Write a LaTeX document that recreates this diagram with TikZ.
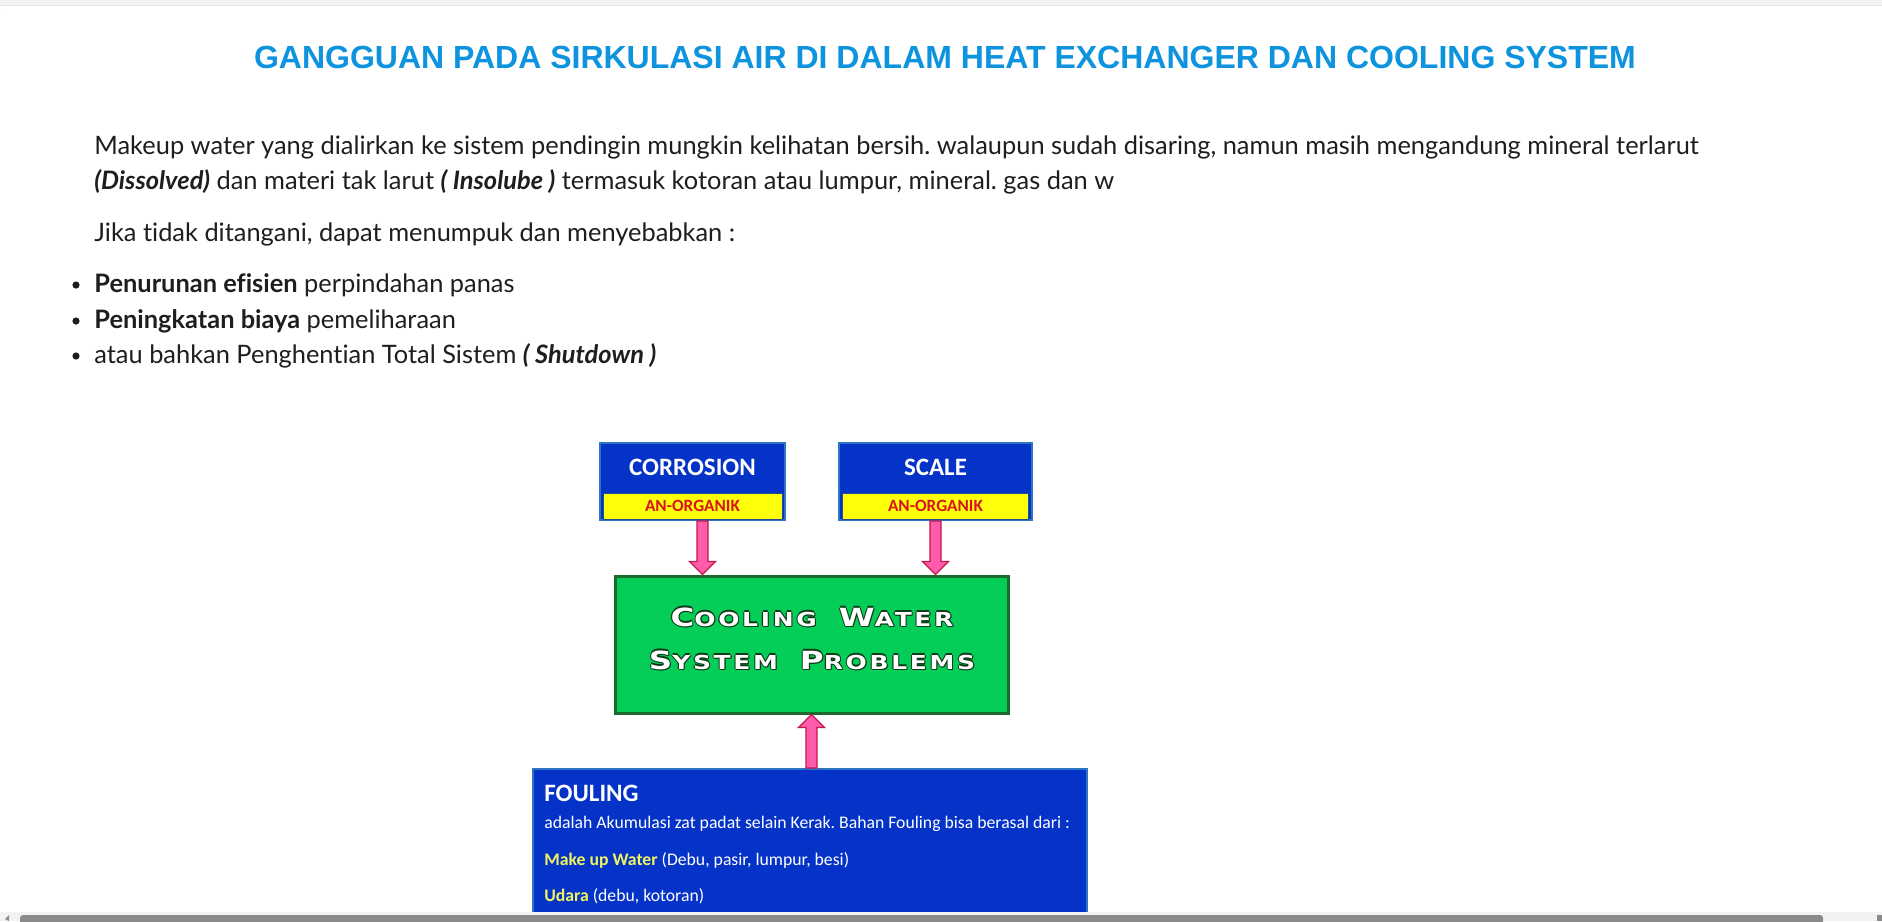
\documentclass[tikz,border=0pt]{standalone}
\usepackage{fontspec}
\setmainfont{Lato}[Ligatures=NoCommon]
\newfontfamily\arial{Liberation Sans}
\newfontfamily\calib{Carlito}
\newfontfamily\plate{DejaVu Sans}[FakeStretch=1.3,LetterSpace=14]
\usetikzlibrary{calc}
\frenchspacing

% white letters with a thin dark rim
\newcommand\edged[1]{\leavevmode{\color{RimGreen}\rlap{\kern-.55pt#1}\rlap{\kern.55pt#1}\rlap{\raisebox{.55pt}{#1}}\rlap{\raisebox{-.55pt}{#1}}\rlap{\kern.45pt\raisebox{-.9pt}{#1}}}#1}
\newcommand\pc[2]{{\fontsize{12.5}{13}\selectfont#1}{\fontsize{9.6}{10}\selectfont#2}}
% fat arrow: start, end, signed head length
\newcommand\blockarrow[3]{\draw[bkarrow] ($(#1)+(-5.5,0)$) -- ($(#2)+(-5.5,#3)$) -- ($(#2)+(-13,#3)$) -- (#2) -- ($(#2)+(13,#3)$) -- ($(#2)+(5.5,#3)$) -- ($(#1)+(5.5,0)$) -- cycle;}

\begin{document}
\begin{tikzpicture}[x=0.5pt,y=-0.5pt, every node/.style={inner sep=0pt},
  body/.style={anchor=base west, text=Ink, font=\fontsize{12.7}{14}\selectfont},
  blubox/.style={draw=EdgeBlue, line width=1pt, fill=BoxBlue},
  tag/.style={fill=TagYellow, draw=TagEdge, line width=.5pt, text=TagRed, font=\calib\bfseries\fontsize{8.6}{10}\selectfont},
  boxlbl/.style={anchor=base, text=white, font=\calib\bfseries\fontsize{12.5}{14}\selectfont},
  foultxt/.style={anchor=base west, text=white, font=\calib\fontsize{8.85}{10}\selectfont},
  bkarrow/.style={fill=ArrowPink, draw=ArrowRim, line width=.6pt, line join=miter}]
\definecolor{PageGray}{HTML}{F2F2F2}\definecolor{TitleBlue}{HTML}{0E93DF}\definecolor{Ink}{HTML}{1E1E1E}
\definecolor{BoxBlue}{HTML}{0533C8}\definecolor{EdgeBlue}{HTML}{2C74C4}\definecolor{TagYellow}{HTML}{FFFF08}
\definecolor{TagEdge}{HTML}{1F4F8F}\definecolor{TagRed}{HTML}{D8141E}\definecolor{CoolGreen}{HTML}{05CE58}
\definecolor{CoolEdge}{HTML}{1C6A2C}\definecolor{RimGreen}{HTML}{0E3A16}\definecolor{ArrowPink}{HTML}{FF5CAC}
\definecolor{ArrowRim}{HTML}{C3174E}\definecolor{SoftYellow}{HTML}{F0F560}\definecolor{ThumbGray}{HTML}{8A8A8A}
\clip (0,0) rectangle (1882,921);
\fill[PageGray] (0,0) rectangle (1882,921);
\draw[white, fill=white, rounded corners=2pt] (0,5) rectangle (1890,930);
\draw[black!10] (0,5.5) -- (1882,5.5);

\node[anchor=base, text=TitleBlue, font=\arial\bfseries\fontsize{16}{20}\selectfont] (title) at (945,68) {GANGGUAN PADA SIRKULASI AIR DI DALAM HEAT EXCHANGER DAN COOLING SYSTEM};

\node[body] (p1) at (94,154) {Makeup water yang dialirkan ke sistem pendingin mungkin kelihatan bersih. walaupun sudah disaring, namun masih mengandung mineral terlarut};
\node[body] (p2) at (94,189) {\textbf{\textit{(Dissolved)}} dan materi tak larut \textbf{\textit{( Insolube )}} termasuk kotoran atau lumpur, mineral. gas dan w};
\node[body] (p3) at (94,241) {Jika tidak ditangani, dapat menumpuk dan menyebabkan :};
\node[body] (b1) at (94,292) {\textbf{Penurunan efisien} perpindahan panas};
\node[body] (b2) at (94,328) {\textbf{Peningkatan biaya} pemeliharaan};
\node[body] (b3) at (94,363) {atau bahkan Penghentian Total Sistem \textbf{\textit{( Shutdown )}}};
\foreach \b in {b1,b2,b3} \fill[Ink] ($(\b.base west)+(-18,-7)$) circle (1.8pt);

% top boxes
\node[blubox, minimum width=92.5pt, minimum height=38.5pt] (corr) at (692.5,481.5) {};
\node[tag, minimum width=89.5pt, minimum height=13pt] (corrtag) at (692.5,506) {AN-ORGANIK};
\node[boxlbl] (corrlbl) at (692.5,475) {CORROSION};
\node[blubox, minimum width=96.5pt, minimum height=38.5pt] (scale) at (935.5,481.5) {};
\node[tag, minimum width=93pt, minimum height=13pt] (scaletag) at (935.5,506) {AN-ORGANIK};
\node[boxlbl] (scalelbl) at (935.5,475) {SCALE};

% centre box
\node[draw=CoolEdge, line width=1.5pt, fill=CoolGreen, minimum width=196.5pt, minimum height=68.5pt] (cool) at (811.5,644.5) {};
\node[anchor=base, text=white, font=\plate\bfseries] (cool1) at (812,626) {\edged{\pc{C}{OOLING}\hspace{11pt}\pc{W}{ATER}}};
\node[anchor=base, text=white, font=\plate\bfseries] (cool2) at (812,669) {\edged{\pc{S}{YSTEM}\hspace{11pt}\pc{P}{ROBLEMS}}};

% fouling box
\node[blubox, anchor=north west, minimum width=277pt, minimum height=85pt] (foul) at (532,768) {};
\node[anchor=base west, text=white, font=\calib\bfseries\fontsize{12.5}{14}\selectfont] (foulhd) at (544,801) {FOULING};
\node[foultxt] (foul1) at (544,828) {adalah Akumulasi zat padat selain Kerak. Bahan Fouling bisa berasal dari :};
\node[foultxt] (foul2) at (544,865) {\textcolor{SoftYellow}{\bfseries Make up Water} (Debu, pasir, lumpur, besi)};
\node[foultxt] (foul3) at (544,901) {\textcolor{SoftYellow}{\bfseries Udara} (debu, kotoran)};

% arrows
\coordinate (c1) at ($(corr.south)+(10,0)$); \coordinate (c1e) at (c1 |- cool.north);
\coordinate (c2) at (scale.south); \coordinate (c2e) at (c2 |- cool.north);
\coordinate (c3) at (cool.south |- foul.north);
\blockarrow{c1}{c1e}{-13} \blockarrow{c2}{c2e}{-13} \blockarrow{c3}{cool.south}{13}

% scroll bar
\fill[PageGray] (0,912) rectangle (1882,921);
\fill[ThumbGray, rounded corners=1.5pt] (20,915) rectangle (1823,925);
\fill[ThumbGray] (5,919) -- (9,915) -- (9,921) -- cycle; \fill[ThumbGray] (1877,915) rectangle (1882,921);
\end{tikzpicture}
\end{document}
